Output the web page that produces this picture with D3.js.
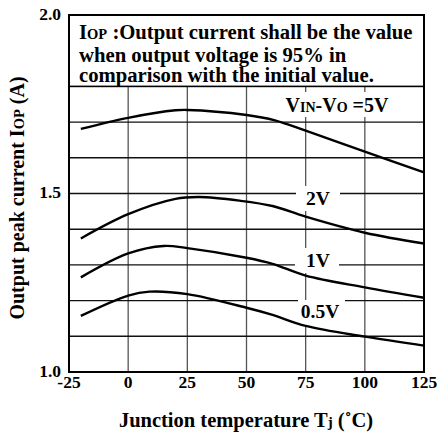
<!DOCTYPE html>
<html><head><meta charset="utf-8">
<script src="https://cdn.jsdelivr.net/npm/d3@7"></script>
</head>
<body><svg id="c" width="442" height="433"></svg>
<script>
const xTicks = [-25, 0, 25, 50, 75, 100, 125];
const yTickLabels = [1.0, 1.5, 2.0];
const yGrid = [1.1, 1.2, 1.3, 1.4, 1.5, 1.6, 1.7, 1.8, 1.9];
const temps5V  = [-20, 0, 20, 25, 50, 62, 75, 100, 125];
const vals5V   = [1.681, 1.712, 1.733, 1.734, 1.720, 1.705, 1.676, 1.617, 1.559];
const temps2V  = [-20, 0, 20, 30, 47, 61, 75, 100, 125];
const vals2V   = [1.374, 1.442, 1.485, 1.490, 1.480, 1.465, 1.435, 1.390, 1.360];
const temps1V  = [-20, 0, 15, 25, 50, 61, 75, 100, 125];
const vals1V   = [1.265, 1.332, 1.353, 1.347, 1.320, 1.303, 1.270, 1.237, 1.208];
const temps05V = [-20, 0, 9, 25, 50, 61, 75, 100, 125];
const vals05V  = [1.157, 1.214, 1.225, 1.218, 1.180, 1.160, 1.129, 1.099, 1.074];
const noteLines = ["when output voltage is 95% in", "comparison with the initial value."];

d3.select("body").style("margin","0px").style("background","#fff");
const FONT = "Liberation Serif";
const svg = d3.select("#c").style("display","block");
const x = d3.scaleLinear().domain([-25,125]).range([69,424]);
const y = d3.scaleLinear().domain([1,2]).range([372,15]);

// grid
svg.append("g").selectAll("line").data(xTicks.slice(1,-1)).join("line")
  .attr("x1",d=>x(d)).attr("x2",d=>x(d)).attr("y1",y(1)).attr("y2",y(2))
  .attr("stroke","#555").attr("stroke-width",1.3);
svg.append("g").selectAll("line").data(yGrid).join("line")
  .attr("x1",x(-25)).attr("x2",x(125)).attr("y1",d=>y(d)).attr("y2",d=>y(d))
  .attr("stroke","#111").attr("stroke-width",1.4);

// label backgrounds (hide grid)
const bgs = [
  {x:279,y:92,w:116,h:25},
  {x:296,y:186,w:44,h:25},
  {x:295,y:248,w:44,h:25},
  {x:298,y:300,w:47,h:25}
];
svg.append("g").selectAll("rect").data(bgs).join("rect")
  .attr("x",d=>d.x).attr("y",d=>d.y).attr("width",d=>d.w).attr("height",d=>d.h).attr("fill","#fff");

// curves
const series = [[temps5V,vals5V],[temps2V,vals2V],[temps1V,vals1V],[temps05V,vals05V]];
const line = d3.line().x(d=>x(d[0])).y(d=>y(d[1])).curve(d3.curveCatmullRom.alpha(0.5));
svg.append("g").selectAll("path").data(series).join("path")
  .attr("d",s=>line(d3.zip(s[0],s[1])))
  .attr("fill","none").attr("stroke","#000").attr("stroke-width",2.4);

// note box
svg.append("rect").attr("x",x(-25)).attr("y",y(2)).attr("width",x(125)-x(-25)).attr("height",y(1.8)-y(2))
  .attr("fill","#fff").attr("stroke","#000").attr("stroke-width",1.6);

function T(sel){ return sel.attr("font-family",FONT).attr("font-weight","bold").attr("fill","#000"); }

const l1 = T(svg.append("text")).attr("x",79).attr("y",39).attr("font-size",20.7);
l1.append("tspan").text("I");
l1.append("tspan").attr("font-size",14.5).text("OP");
l1.append("tspan").text(" :Output current shall be the value");
T(svg.append("g").selectAll("text").data(noteLines).join("text"))
  .attr("x",79).attr("y",(d,i)=>61.5+i*20.5).attr("font-size",20.7).text(d=>d);

// frame
svg.append("rect").attr("x",x(-25)).attr("y",y(2)).attr("width",x(125)-x(-25)).attr("height",y(1)-y(2))
  .attr("fill","none").attr("stroke","#000").attr("stroke-width",2);

// series labels
const lab5 = T(svg.append("text")).attr("x",337).attr("y",112).attr("text-anchor","middle").attr("font-size",20);
lab5.append("tspan").text("V");
lab5.append("tspan").attr("font-size",14).text("IN");
lab5.append("tspan").text("-V");
lab5.append("tspan").attr("font-size",14).text("O");
lab5.append("tspan").text(" =5V");
const labs = [{t:"2V",x:318,y:205},{t:"1V",x:318,y:267},{t:"0.5V",x:320,y:318}];
T(svg.append("g").selectAll("text").data(labs).join("text"))
  .attr("x",d=>d.x).attr("y",d=>d.y).attr("text-anchor","middle").attr("font-size",19.5).text(d=>d.t);

// ticks
T(svg.append("g").selectAll("text").data(xTicks).join("text"))
  .attr("x",d=>x(d)).attr("y",388).attr("text-anchor","middle").attr("font-size",17.5).text(d=>d);
T(svg.append("g").selectAll("text").data(yTickLabels).join("text"))
  .attr("x",61).attr("y",d=>y(d)+4.5).attr("text-anchor","end").attr("font-size",17.5).text(d=>d.toFixed(1));

// axis titles
const xt = T(svg.append("text")).attr("x",246).attr("y",427).attr("text-anchor","middle").attr("font-size",20.5);
xt.append("tspan").text("Junction temperature T");
xt.append("tspan").attr("font-size",15).text("j");
xt.append("tspan").text(" (˚C)");
const yt = T(svg.append("text")).attr("transform","translate(24,198) rotate(-90)").attr("text-anchor","middle").attr("font-size",20);
yt.append("tspan").text("Output peak current I");
yt.append("tspan").attr("font-size",14.5).text("OP");
yt.append("tspan").text(" (A)");
</script></body></html>
